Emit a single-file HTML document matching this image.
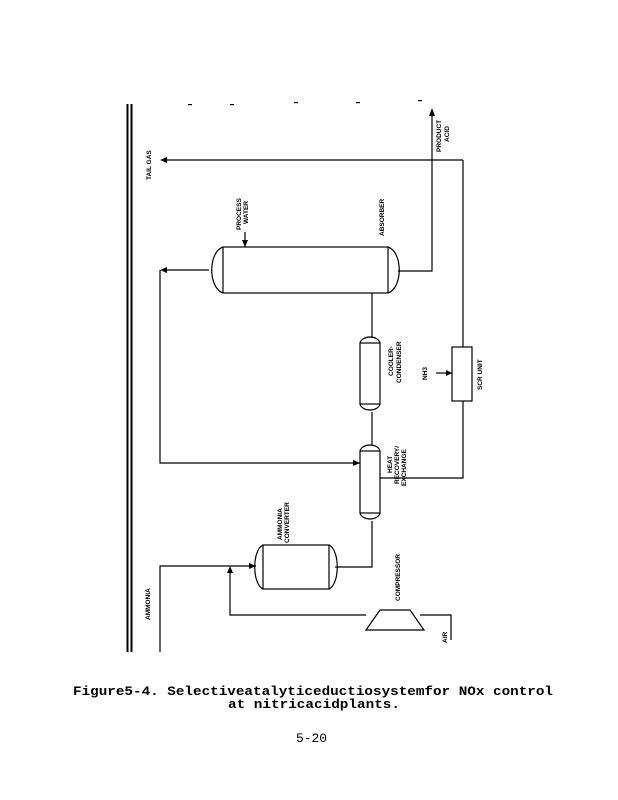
<!DOCTYPE html>
<html><head><meta charset="utf-8"><style>
html,body{margin:0;padding:0;background:#fff;}
svg{display:block;}
.l{font-family:"Liberation Sans",sans-serif;font-size:6.5px;font-weight:bold;fill:#000;}
.c{font-family:"Liberation Mono",monospace;font-size:13px;font-weight:bold;fill:#000;}
</style></head><body>
<svg width="618" height="800" viewBox="0 0 618 800" xmlns="http://www.w3.org/2000/svg">
<g stroke="#000" stroke-width="1.2" fill="none">
<line x1="127.5" y1="104" x2="127.5" y2="652" stroke-width="2"/>
<line x1="131.5" y1="104" x2="131.5" y2="652" stroke-width="2"/>
<line x1="162" y1="160" x2="463" y2="160"/>
<polyline points="398,271 432,271 432,112"/>
<line x1="463" y1="160" x2="463" y2="347"/>
<rect x="452" y="347" width="20" height="54"/>
<polyline points="463,401 463,478 380,478"/>
<line x1="436" y1="373" x2="452" y2="373"/>
<rect x="223" y="247" width="165" height="46"/>
<path d="M223,247 C208,252 208,288 223,293"/>
<path d="M388,247 C403,252 403,288 388,293"/>
<line x1="245" y1="232" x2="245" y2="247"/>
<line x1="162" y1="270" x2="209" y2="270"/>
<line x1="372" y1="293" x2="372" y2="338"/>
<rect x="360" y="343" width="20" height="61"/>
<path d="M360,343 C362,335 378,335 380,343"/>
<path d="M380,404 C378,412 362,412 360,404"/>
<line x1="372" y1="412" x2="372" y2="445"/>
<rect x="360" y="451" width="20" height="62"/>
<path d="M360,451 C362,443 378,443 380,451"/>
<path d="M380,513 C378,521 362,521 360,513"/>
<polyline points="160,270 160,463 360,463"/>
<polyline points="372,521 372,567 335,567"/>
<rect x="263" y="545" width="66" height="44"/>
<path d="M263,545 C252,550 252,584 263,589"/>
<path d="M329,545 C340,550 340,584 329,589"/>
<polyline points="160,652 160,566 256,566"/>
<polyline points="230,568 230,615 366,615"/>
<path d="M366,630 L380,610 L410,610 L424,630 Z"/>
<polyline points="420,615 451,615 451,640"/>
</g>
<g fill="#000">
<polygon points="160,160 167,157 167,163"/>
<polygon points="160,270 167,267 167,273"/>
<polygon points="432,108 429,116 435,116"/>
<polygon points="245,247 242,240 248,240"/>
<polygon points="452,373 446,370 446,376"/>
<polygon points="360,463 353,460 353,466"/>
<polygon points="256,566 249,563 249,569"/>
<polygon points="230,566 227,573 233,573"/>
<rect x="188" y="104" width="4" height="1.2"/><rect x="230" y="104" width="4" height="1.2"/>
<rect x="294" y="102" width="4" height="1.2"/><rect x="356" y="102" width="4" height="1.2"/>
<rect x="418" y="100" width="4" height="1.2"/>
</g>
<g class="l">
<text transform="translate(151,180) rotate(-90)">TAIL GAS</text>
<text transform="translate(441,152) rotate(-90)">PRODUCT</text>
<text transform="translate(449,142) rotate(-90)">ACID</text>
<text transform="translate(241,230) rotate(-90)">PROCESS</text>
<text transform="translate(248,224) rotate(-90)">WATER</text>
<text transform="translate(384,236) rotate(-90)">ABSORBER</text>
<text transform="translate(393,376) rotate(-90)">COOLER-</text>
<text transform="translate(401,383) rotate(-90)">CONDENSER</text>
<text transform="translate(427,380) rotate(-90)">NH3</text>
<text transform="translate(482,390) rotate(-90)">SCR UNIT</text>
<text transform="translate(392,473) rotate(-90)">HEAT</text>
<text transform="translate(399,484) rotate(-90)">RECOVERY/</text>
<text transform="translate(406,486) rotate(-90)">EXCHANGE</text>
<text transform="translate(282,540) rotate(-90)">AMMONIA</text>
<text transform="translate(289,543) rotate(-90)">CONVERTER</text>
<text transform="translate(400,601) rotate(-90)">COMPRESSOR</text>
<text transform="translate(150,620) rotate(-90)">AMMONIA</text>
<text transform="translate(447,643) rotate(-90)">AIR</text>
</g>
<text class="c" x="73" y="695" textLength="480" lengthAdjust="spacingAndGlyphs">Figure5-4. Selectiveatalyticeductiosystemfor NOx control</text>
<text class="c" x="228" y="708" textLength="172" lengthAdjust="spacingAndGlyphs">at nitricacidplants.</text>
<text class="c" x="296" y="742" style="font-weight:normal" textLength="31" lengthAdjust="spacingAndGlyphs">5-20</text>
</svg>
</body></html>
